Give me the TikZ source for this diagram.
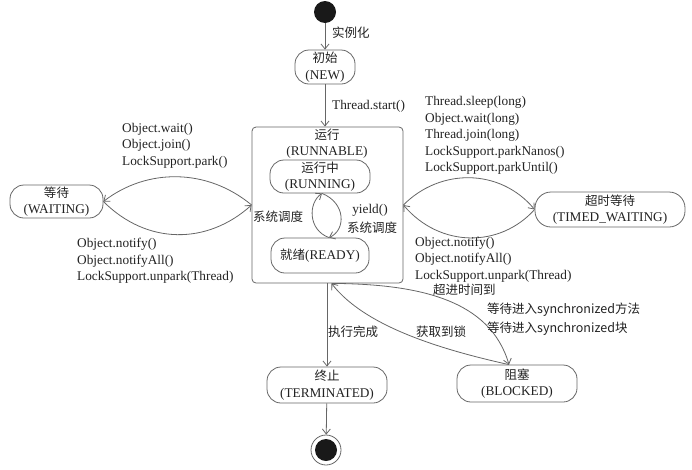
\documentclass[tikz,border=0pt]{standalone}
\usepackage{fontspec}
\setmainfont{Liberation Serif}
\newfontfamily\cjk[Scale=0.94]{Noto Sans CJK SC}
\usetikzlibrary{arrows.meta}
\definecolor{ln}{HTML}{666666}
\definecolor{tx}{HTML}{222222}
\begin{document}
\begin{tikzpicture}[x=1pt,y=-1pt,
  every node/.style={text=tx, font=\fontsize{13.3}{16.5}\selectfont, inner sep=0pt},
  state/.style={draw=ln, line width=0.8pt, rounded corners=14pt, align=center},
  conn/.style={draw=ln, line width=0.8pt, -{Straight Barb[length=5pt,width=8pt]}},
  lbl/.style={align=left, anchor=west},
]
\useasboundingbox (0,0) rectangle (692,469);
% states
\node[circle, fill=black!90, minimum size=22pt] (start) at (325,12) {};
\node[state, minimum width=60pt, minimum height=34pt] (new) at (325,67) {{\cjk 初始}\\(NEW)};
\node[draw=ln, line width=0.8pt, rounded corners=4pt, minimum width=151pt, minimum height=156pt] (runnable) at (327.5,205) {};
\node[align=center] (runtitle) at (327,143.5) {{\cjk 运行}\\(RUNNABLE)};
\node[state, minimum width=100pt, minimum height=33pt] (running) at (320,176.5) {{\cjk 运行中}\\(RUNNING)};
\node[state, minimum width=98pt, minimum height=35pt] (ready) at (320,255.5) {{\cjk 就绪}(READY)};
\node[state, minimum width=93pt, minimum height=33pt] (waiting) at (56.5,201.5) {{\cjk 等待}\\(WAITING)};
\node[state, rounded corners=16pt, minimum width=150pt, minimum height=35pt] (timed) at (610,209.5) {{\cjk 超时等待}\\(TIMED\_WAITING)};
\node[state, minimum width=120pt, minimum height=36pt] (term) at (327,385) {{\cjk 终止}\\(TERMINATED)};
\node[state, minimum width=120pt, minimum height=37pt] (blocked) at (517,383.5) {{\cjk 阻塞}\\(BLOCKED)};
\node[circle, draw=ln, line width=0.8pt, minimum size=30pt] (end) at (326,450) {};
\node[circle, fill=black!90, minimum size=22pt] (endin) at (end) {};
% connectors
\draw[conn] (start) -- (new);
\draw[conn] (new.south) -- (new.south |- runnable.north);
\draw[conn] (term.north |- runnable.south) -- (term.north);
\draw[conn] (term) -- (end);
\draw[conn] ([xshift=9]ready.north) .. controls (308,230) and (308,203) .. ([xshift=2]running.south);
\draw[conn] ([xshift=2]running.south) .. controls (346,203) and (346,230) .. ([xshift=9]ready.north);
\draw[conn] (runnable.west) .. controls (207,168) and (147,168) .. (waiting.east);
\draw[conn] (waiting.east) .. controls (147,245) and (207,245) .. (runnable.west);
\draw[conn] (runnable.east) .. controls (440,168) and (500,168) .. (timed.west);
\draw[conn] (timed.west) .. controls (500,248) and (440,248) .. (runnable.east);
\draw[conn] ([xshift=-8]blocked.north) .. controls (420,345) and (360,320) .. ([xshift=4]runnable.south);
\draw[conn] ([xshift=4]runnable.south) .. controls (420,284) and (490,300) .. ([xshift=-8]blocked.north);
% labels
\node[anchor=west] (l1) at (332,33) {\cjk 实例化};
\node[anchor=west] (l2) at (332,106) {Thread.start()};
\node (l3) at (278,217) {\cjk 系统调度};
\node (l4) at (370,210) {yield()};
\node (l5) at (372,228) {\cjk 系统调度};
\node[lbl] (l6) at (122,145.5) {Object.wait()\\Object.join()\\LockSupport.park()};
\node[lbl] (l7) at (77,261) {Object.notify()\\Object.notifyAll()\\LockSupport.unpark(Thread)};
\node[lbl] (l8) at (425,135.5) {Thread.sleep(long)\\Object.wait(long)\\Thread.join(long)\\LockSupport.parkNanos()\\LockSupport.parkUntil()};
\node[lbl] (l9) at (415,259.5) {Object.notify()\\Object.notifyAll()\\LockSupport.unpark(Thread)};
\node[anchor=west] (l10) at (433,290) {\cjk 超进时间到};
\node[lbl, font=\fontsize{13.3}{19}\selectfont\cjk] (l11) at (487,319.5) {等待进入synchronized方法\\等待进入synchronized块};
\node (l12) at (353,332) {\cjk 执行完成};
\node (l13) at (441,332) {\cjk 获取到锁};
\end{tikzpicture}
\end{document}
